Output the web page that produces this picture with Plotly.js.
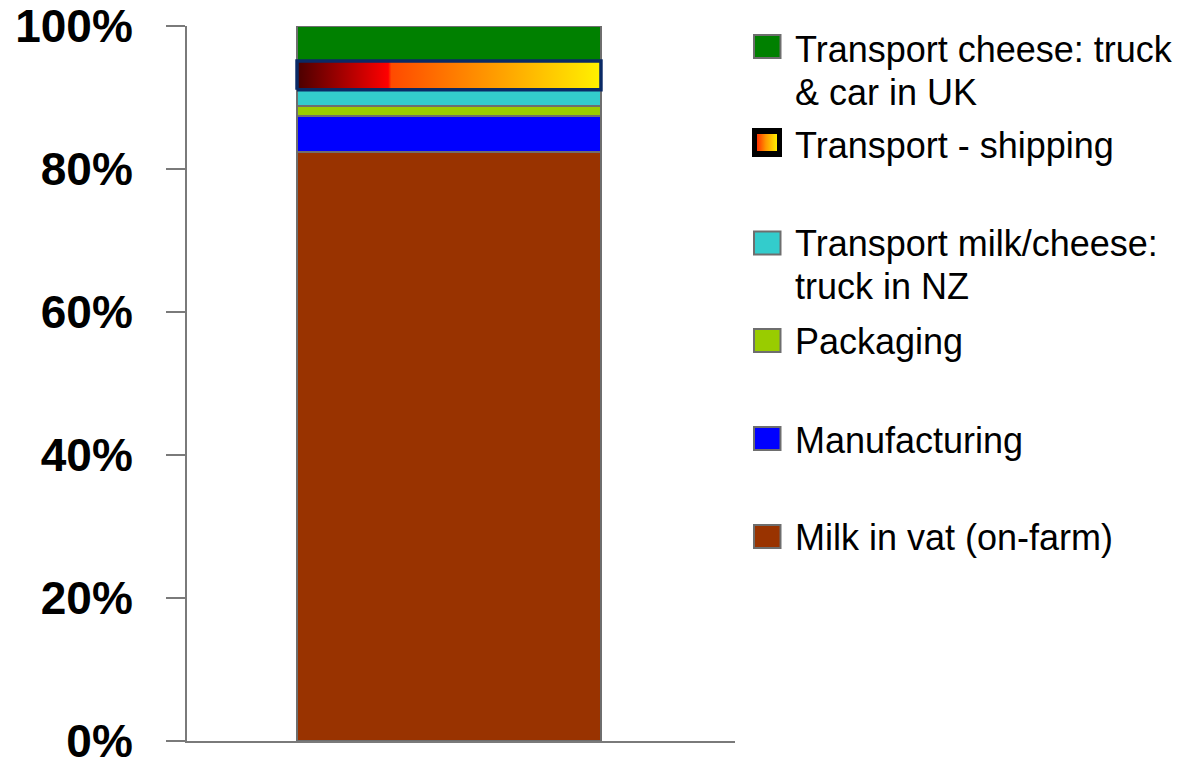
<!DOCTYPE html>
<html>
<head>
<meta charset="utf-8">
<script src="https://cdn.plot.ly/plotly-3.0.1.min.js"></script>
<style>html,body{margin:0;padding:0;background:#fff;}#chart{width:1188px;height:762px;}</style>
</head>
<body>
<div id="chart"></div>
<script>
// ---- data (bottom to top of the stack) ----
const segmentNames = [
  'Milk in vat (on-farm)',
  'Manufacturing',
  'Packaging',
  'Transport milk/cheese: truck in NZ',
  'Transport - shipping',
  'Transport cheese: truck & car in UK'
];
const legendLabels = [
  'Milk in vat (on-farm)',
  'Manufacturing',
  'Packaging',
  'Transport milk/cheese:<br>truck in NZ',
  'Transport - shipping',
  'Transport cheese: truck<br>& car in UK'
];
const segmentValues = [82.4, 5.0, 1.4, 2.3, 4.0, 4.9];
const segmentColors = ['#993300', '#0000ff', '#99cc00', '#33cccc', '#ff8c00', '#008000'];
const gradientIndex = 4;
const yTickVals = [0, 20, 40, 60, 80, 100];
const yTickText = ['0%', '20%', '40%', '60%', '80%', '100%'];

// ---- styles / layout geometry ----
const W = 1188, H = 762;
const paperL = 187, paperR = 1188, plotR = 735, plotT = 26, plotB = 741;
const barWidth = 1;
const xRange = [-0.862, 0.941];
const gradScale = [[0, '#4a0000'], [0.3, '#ff0000'], [0.31, '#ff4a00'], [0.6, '#ff9000'], [1, '#fff200']];
const legGradScale = [[0, '#ff3000'], [0.45, '#ff9a00'], [1, '#ffee00']];
const fontFam = '"Liberation Sans", Arial, sans-serif';
const legFS = 36;
const legLineGap = 43;

const px2x = p => (p - paperL) / (paperR - paperL);
const py2y = p => (plotB - p) / (plotB - plotT);

const traces = [];
segmentNames.forEach((n, i) => {
  traces.push({
    type: 'bar', x: [0], y: [segmentValues[i]], width: barWidth, name: n,
    marker: {color: segmentColors[i], line: {color: '#6e6e6e', width: 2}},
    showlegend: false, hoverinfo: 'name+y'
  });
});
// gradient overlay for the shipping segment, derived from the stacked values
const gradBase = segmentValues.slice(0, gradientIndex).reduce((a, b) => a + b, 0);
const gradTop = gradBase + segmentValues[gradientIndex];
traces.push({
  type: 'scatter', mode: 'lines', fill: 'toself',
  x: [-barWidth / 2, barWidth / 2, barWidth / 2, -barWidth / 2, -barWidth / 2],
  y: [gradBase, gradBase, gradTop, gradTop, gradBase],
  fillgradient: {type: 'horizontal', colorscale: gradScale},
  line: {color: '#0a2a66', width: 3.5},
  showlegend: false, hoverinfo: 'skip', name: segmentNames[gradientIndex]
});

// ---- manual legend ----
const legOrder = [5, 4, 3, 2, 1, 0];
const legSymTop = [35, 131, 231.5, 329, 427, 525];
const legBaseline = [61.5, 157.5, 255.5, 354, 452.5, 550];
const shapes = [], annotations = [];
let gradSymTop = 0;
legOrder.forEach((idx, k) => {
  const t = legSymTop[k];
  if (idx === gradientIndex) {
    shapes.push({type: 'rect', xref: 'paper', yref: 'paper',
      x0: px2x(752), x1: px2x(782), y0: py2y(t - 3), y1: py2y(t + 26),
      fillcolor: '#000', line: {width: 0}, layer: 'below'});
    gradSymTop = t;
  } else {
    shapes.push({type: 'rect', xref: 'paper', yref: 'paper',
      x0: px2x(754), x1: px2x(780.5), y0: py2y(t), y1: py2y(t + 23),
      fillcolor: segmentColors[idx], line: {color: '#6e6e6e', width: 2}});
  }
  legendLabels[idx].split('<br>').forEach((line, j) => {
    const bl = legBaseline[k] + j * legLineGap;
    annotations.push({xref: 'paper', yref: 'paper', x: px2x(793), y: py2y(bl - 0.905 * legFS - 2),
      xanchor: 'left', yanchor: 'top', align: 'left', showarrow: false,
      text: line, font: {family: fontFam, size: legFS, color: '#000'}});
  });
});
// gradient swatch for the shipping legend entry on its own small axes
traces.push({
  type: 'scatter', mode: 'lines', fill: 'toself', xaxis: 'x2', yaxis: 'y2',
  x: [0, 1, 1, 0, 0], y: [0, 0, 1, 1, 0],
  fillgradient: {type: 'horizontal', colorscale: legGradScale},
  line: {width: 0, color: 'rgba(0,0,0,0)'}, showlegend: false, hoverinfo: 'skip'
});

const layout = {
  width: W, height: H,
  margin: {l: paperL, r: W - paperR, t: plotT, b: H - plotB, pad: 0},
  paper_bgcolor: '#fff', plot_bgcolor: 'rgba(0,0,0,0)',
  barmode: 'stack', showlegend: false,
  font: {family: fontFam, color: '#000'},
  xaxis: {domain: [0, px2x(plotR)], range: xRange, showgrid: false, zeroline: false, showticklabels: false, ticks: '',
    showline: true, linecolor: '#7a7a7a', linewidth: 2, fixedrange: true},
  yaxis: {range: [0, 100], tickvals: yTickVals, ticktext: yTickText, ticks: 'outside', ticklen: 19,
    tickwidth: 2, tickcolor: '#7a7a7a', showline: true, linecolor: '#7a7a7a', linewidth: 2,
    showgrid: false, zeroline: false, ticklabelstandoff: 24, ticklabeloverflow: 'allow',
    tickfont: {family: fontFam, size: 46, color: '#000', weight: 'bold'}, fixedrange: true},
  xaxis2: {domain: [px2x(757), px2x(777)], range: [0, 1], anchor: 'y2', visible: false, fixedrange: true},
  yaxis2: {domain: [py2y(gradSymTop + 20), py2y(gradSymTop + 3)], range: [0, 1], anchor: 'x2', visible: false, fixedrange: true},
  shapes: shapes, annotations: annotations
};
Plotly.newPlot('chart', traces, layout, {displayModeBar: false, staticPlot: true});
</script>
</body>
</html>
